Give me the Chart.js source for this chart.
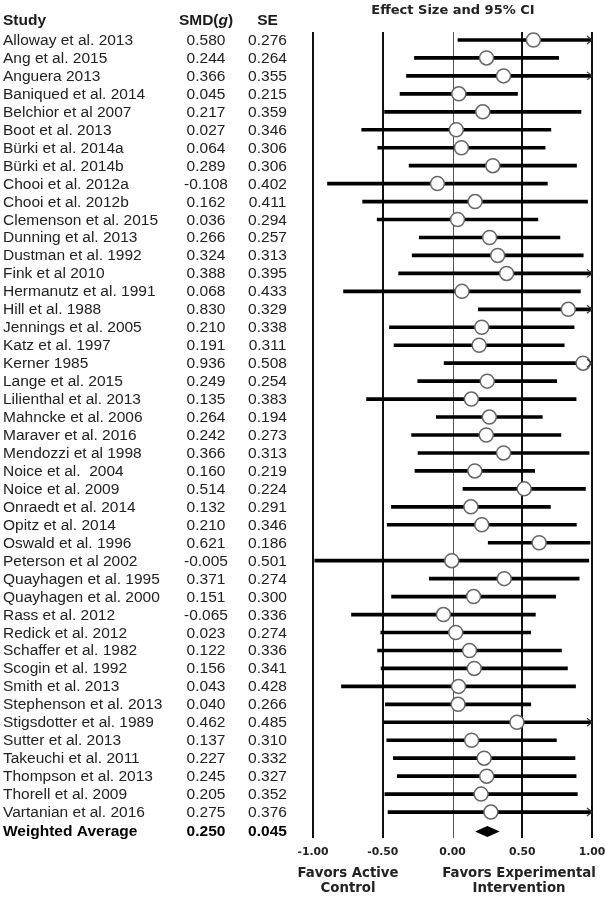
<!DOCTYPE html>
<html><head><meta charset="utf-8">
<script src="https://cdn.jsdelivr.net/npm/chart.js@4/dist/chart.umd.min.js"></script>
<style>html,body{margin:0;padding:0;background:#fff}canvas{display:block}</style>
</head><body>
<canvas id="c" width="605" height="900"></canvas>
<script>
const studies = ['Alloway et al. 2013','Ang et al. 2015','Anguera 2013','Baniqued et al. 2014','Belchior et al 2007','Boot et al. 2013','Bürki et al. 2014a','Bürki et al. 2014b','Chooi et al. 2012a','Chooi et al. 2012b','Clemenson et al. 2015','Dunning et al. 2013','Dustman et al. 1992','Fink et al 2010','Hermanutz et al. 1991','Hill et al. 1988','Jennings et al. 2005','Katz et al. 1997','Kerner 1985','Lange et al. 2015','Lilienthal et al. 2013','Mahncke et al. 2006','Maraver et al. 2016','Mendozzi et al 1998','Noice et al.  2004','Noice et al. 2009','Onraedt et al. 2014','Opitz et al. 2014','Oswald et al. 1996','Peterson et al 2002','Quayhagen et al. 1995','Quayhagen et al. 2000','Rass et al. 2012','Redick et al. 2012','Schaffer et al. 1982','Scogin et al. 1992','Smith et al. 2013','Stephenson et al. 2013','Stigsdotter et al. 1989','Sutter et al. 2013','Takeuchi et al. 2011','Thompson et al. 2013','Thorell et al. 2009','Vartanian et al. 2016'];
const smd = [0.580,0.244,0.366,0.045,0.217,0.027,0.064,0.289,-0.108,0.162,0.036,0.266,0.324,0.388,0.068,0.830,0.210,0.191,0.936,0.249,0.135,0.264,0.242,0.366,0.160,0.514,0.132,0.210,0.621,-0.005,0.371,0.151,-0.065,0.023,0.122,0.156,0.043,0.040,0.462,0.137,0.227,0.245,0.205,0.275];
const se = [0.276,0.264,0.355,0.215,0.359,0.346,0.306,0.306,0.402,0.411,0.294,0.257,0.313,0.395,0.433,0.329,0.338,0.311,0.508,0.254,0.383,0.194,0.273,0.313,0.219,0.224,0.291,0.346,0.186,0.501,0.274,0.300,0.336,0.274,0.336,0.341,0.428,0.266,0.485,0.310,0.332,0.327,0.352,0.376];
const ciLow = [0.039,-0.273,-0.330,-0.376,-0.487,-0.651,-0.536,-0.311,-0.896,-0.644,-0.540,-0.238,-0.289,-0.386,-0.781,0.185,-0.452,-0.419,-0.060,-0.249,-0.616,-0.116,-0.293,-0.247,-0.269,0.075,-0.438,-0.468,0.256,-0.987,-0.166,-0.437,-0.724,-0.514,-0.537,-0.512,-0.796,-0.481,-0.489,-0.471,-0.424,-0.396,-0.485,-0.462];
const ciHigh = [1.121,0.761,1.062,0.466,0.921,0.705,0.664,0.889,0.680,0.968,0.612,0.770,0.937,1.162,0.917,1.475,0.872,0.801,1.932,0.747,0.886,0.644,0.777,0.979,0.589,0.953,0.702,0.888,0.986,0.977,0.908,0.739,0.594,0.560,0.781,0.824,0.882,0.561,1.413,0.745,0.878,0.886,0.895,1.012];
const avgLabel = 'Weighted Average';
const avgSmd = 0.250, avgSe = 0.045, avgLow = 0.162, avgHigh = 0.338;
const xTicks = [-1, -0.5, 0, 0.5, 1];
const xTickLabels = ['-1.00','-0.50','0.00','0.50','1.00'];
const titleText = 'Effect Size and 95% CI';
const leftNote = ['Favors Active','Control'];
const rightNote = ['Favors Experimental','Intervention'];

const rows = studies.concat([avgLabel]);
const TXT = '"Liberation Sans", Arial, sans-serif';
const BOLDW = '"DejaVu Sans", Verdana, sans-serif';

const forestPlugin = {
  id: 'forest',
  beforeDatasetsDraw(chart) {
    const {ctx, chartArea, scales: {x}} = chart;
    ctx.save();
    xTicks.forEach(v => {
      let px = Math.round(x.getPixelForValue(v));
      const w = v === 0 ? 1 : 2;
      if (w === 1) px += 0.5;
      ctx.beginPath();
      ctx.lineWidth = w;
      ctx.strokeStyle = v === 0 ? '#555' : '#111';
      ctx.moveTo(px, chartArea.top + 1);
      ctx.lineTo(px, chartArea.bottom - 1);
      ctx.stroke();
    });
    ctx.restore();
  },
  afterDraw(chart) {
    const {ctx, chartArea, scales: {x, y}} = chart;
    ctx.save();
    const xMax = x.getPixelForValue(x.max);
    // arrows for CIs beyond the axis max
    ctx.strokeStyle = '#333';
    ctx.lineWidth = 1.2;
    ciHigh.forEach((h, i) => {
      if (h > x.max) {
        const py = y.getPixelForValue(i);
        ctx.beginPath();
        ctx.moveTo(xMax - 5, py - 4);
        ctx.lineTo(xMax, py);
        ctx.lineTo(xMax - 5, py + 4);
        ctx.stroke();
      }
    });
    // diamond for weighted average
    const ay = y.getPixelForValue(rows.length - 1) + 1.5;
    ctx.fillStyle = '#000';
    ctx.beginPath();
    ctx.moveTo(x.getPixelForValue(avgLow), ay);
    ctx.lineTo(x.getPixelForValue(avgSmd), ay - 5.5);
    ctx.lineTo(x.getPixelForValue(avgHigh), ay);
    ctx.lineTo(x.getPixelForValue(avgSmd), ay + 5.5);
    ctx.closePath();
    ctx.fill();

    // table
    const smdX = 206, seX = 267.5;
    ctx.fillStyle = '#1a1a1a';
    ctx.textBaseline = 'alphabetic';
    ctx.font = 'bold 15.5px ' + TXT;
    ctx.textAlign = 'left';
    ctx.fillText('Study', 3, 25);
    // SMD(g) header with italic g
    const p1 = 'SMD(', p3 = ')';
    const w1 = ctx.measureText(p1).width, w3 = ctx.measureText(p3).width;
    ctx.font = 'italic bold 15.5px ' + TXT;
    const w2 = ctx.measureText('g').width;
    let sx = smdX - (w1 + w2 + w3) / 2;
    ctx.font = 'bold 15.5px ' + TXT;
    ctx.fillText(p1, sx, 25);
    ctx.font = 'italic bold 15.5px ' + TXT;
    ctx.fillText('g', sx + w1, 25);
    ctx.font = 'bold 15.5px ' + TXT;
    ctx.fillText(p3, sx + w1 + w2, 25);
    ctx.textAlign = 'center';
    ctx.fillText('SE', seX, 25);

    ctx.fillStyle = '#222';
    ctx.font = '15.5px ' + TXT;
    studies.forEach((s, i) => {
      const by = y.getPixelForValue(i) + 5;
      ctx.textAlign = 'left';
      ctx.fillText(s, 3, by);
      ctx.textAlign = 'center';
      ctx.fillText(smd[i].toFixed(3), smdX, by);
      ctx.fillText(se[i].toFixed(3), seX, by);
    });
    const wy = y.getPixelForValue(rows.length - 1) + 5.5;
    ctx.fillStyle = '#000';
    ctx.font = 'bold 15.5px ' + TXT;
    ctx.textAlign = 'left';
    ctx.fillText(avgLabel, 3, wy);
    ctx.textAlign = 'center';
    ctx.fillText(avgSmd.toFixed(3), smdX, wy);
    ctx.fillText(avgSe.toFixed(3), seX, wy);

    // title
    ctx.fillStyle = '#222';
    ctx.font = 'bold 13px ' + BOLDW;
    ctx.fillText(titleText, 453, 14);

    // tick labels
    ctx.font = 'bold 10.8px ' + BOLDW;
    xTicks.forEach((v, i) => {
      ctx.fillText(xTickLabels[i], x.getPixelForValue(v), 855);
    });
    // side notes
    ctx.font = 'bold 13.3px ' + BOLDW;
    ctx.fillText(leftNote[0], 348, 876.5);
    ctx.fillText(leftNote[1], 348, 891.5);
    ctx.fillText(rightNote[0], 519, 876.5);
    ctx.fillText(rightNote[1], 519, 891.5);
    ctx.restore();
  }
};

new Chart(document.getElementById('c'), {
  type: 'bar',
  data: {
    labels: rows,
    datasets: [
      {
        type: 'bar',
        label: 'CI',
        data: rows.map((r, i) => i < studies.length ? [ciLow[i], ciHigh[i]] : null),
        backgroundColor: '#000',
        borderWidth: 0,
        barThickness: 3,
        clip: 0,
        order: 2
      },
      {
        type: 'line',
        label: 'SMD',
        indexAxis: 'y',
        data: studies.map((s, i) => ({x: smd[i], y: s})),
        showLine: false,
        pointRadius: 7,
        pointBackgroundColor: '#fff',
        pointBorderColor: '#666',
        pointBorderWidth: 1.5,
        clip: false,
        order: 1
      }
    ]
  },
  options: {
    indexAxis: 'y',
    responsive: false,
    animation: false,
    devicePixelRatio: 1,
    layout: {padding: {left: 313, right: 13, top: 31, bottom: 61}},
    plugins: {legend: {display: false}, tooltip: {enabled: false}, title: {display: false}},
    scales: {
      x: {type: 'linear', min: -1, max: 1, display: false},
      y: {type: 'category', display: false, offset: true}
    }
  },
  plugins: [forestPlugin]
});
</script>
</body></html>
